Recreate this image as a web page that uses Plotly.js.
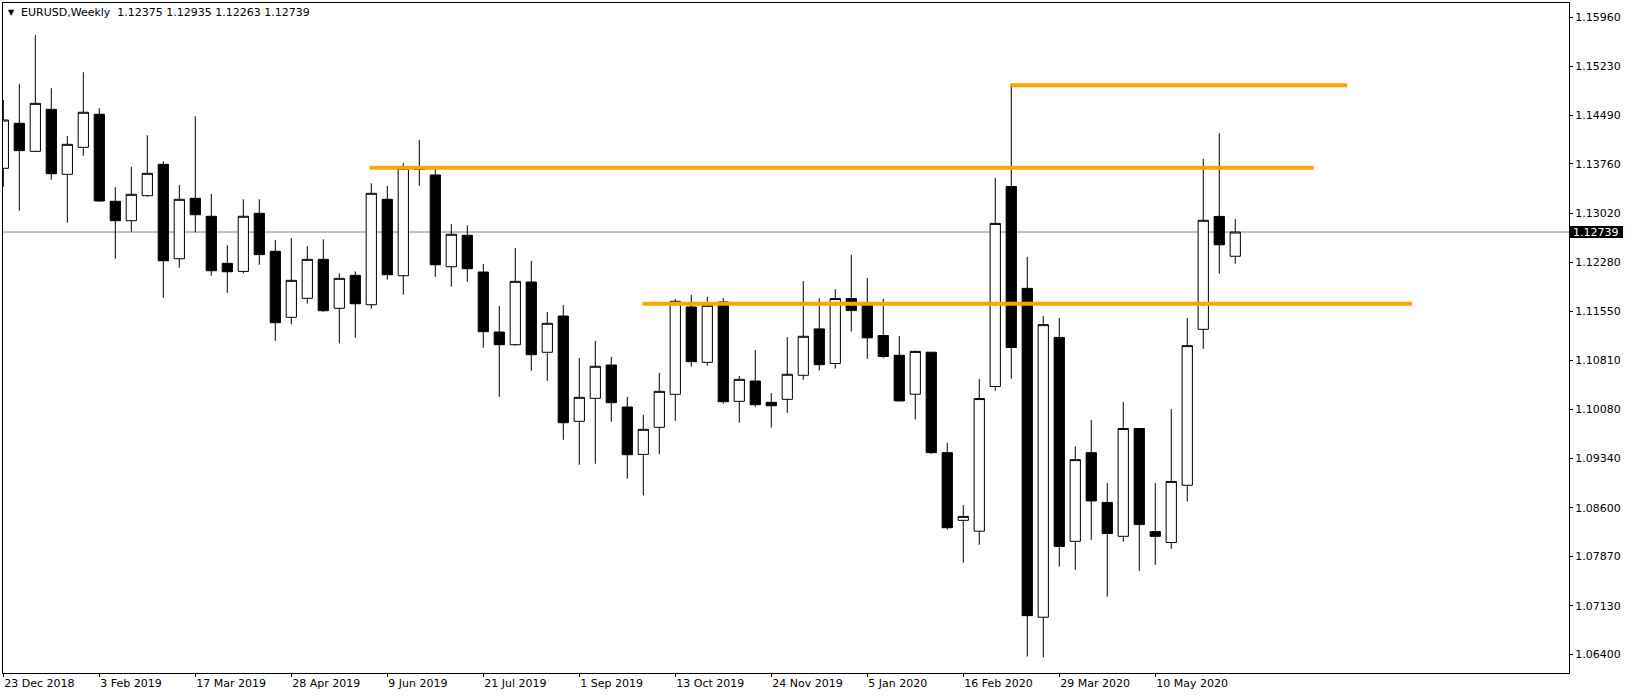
<!DOCTYPE html>
<html>
<head>
<meta charset="utf-8">
<script src="https://cdn.plot.ly/plotly-3.0.1.min.js"></script>
<style>
  html, body { margin: 0; padding: 0; background: #ffffff; }
  #chart { width: 1633px; height: 697px; }
</style>
</head>
<body>
<div id="chart"></div>
<script>
// ---- Data (EURUSD weekly, 23 Dec 2018 .. 14 Jun 2020) ----
const symbolTitle = "EURUSD,Weekly";
const openP = [
  1.13695, 1.14371, 1.13950, 1.14580, 1.13605, 1.14010, 1.14506, 1.13200, 1.12909, 1.13284,
  1.13755, 1.12338, 1.13245, 1.12975, 1.12269, 1.12148, 1.13020, 1.12450, 1.11459, 1.11744,
  1.12329, 1.11594, 1.12089, 1.11648, 1.13230, 1.12083, 1.13700, 1.13595, 1.12218, 1.12690,
  1.12139, 1.11238, 1.11048, 1.11989, 1.10934, 1.11478, 1.09898, 1.10243, 1.10743, 1.10113,
  1.09402, 1.09808, 1.10303, 1.11614, 1.10783, 1.11689, 1.10198, 1.10503, 1.10183, 1.10228,
  1.10589, 1.11285, 1.10766, 1.11741, 1.11665, 1.11186, 1.10889, 1.10305, 1.10935, 1.09428,
  1.08412, 1.08249, 1.10420, 1.13422, 1.11893, 1.06958, 1.11157, 1.08097, 1.09428, 1.08681,
  1.08172, 1.09790, 1.08243, 1.08079, 1.08938, 1.11279, 1.12973, 1.12375
];
const highP = [
  1.14720, 1.14960, 1.15696, 1.14896, 1.14180, 1.15136, 1.14596, 1.13410, 1.13715, 1.14191,
  1.13800, 1.13445, 1.14476, 1.13310, 1.12540, 1.13230, 1.13230, 1.12619, 1.12645, 1.12525,
  1.12630, 1.12119, 1.12148, 1.13470, 1.13430, 1.13770, 1.14120, 1.13719, 1.12859, 1.12840,
  1.12259, 1.11629, 1.12499, 1.12304, 1.11539, 1.11644, 1.10848, 1.11103, 1.10863, 1.10263,
  1.09993, 1.10623, 1.11734, 1.11794, 1.11764, 1.11749, 1.10578, 1.10968, 1.10323, 1.11163,
  1.12004, 1.11747, 1.11881, 1.12396, 1.12050, 1.11735, 1.11180, 1.10960, 1.10940, 1.09574,
  1.08640, 1.10531, 1.13551, 1.14941, 1.12366, 1.11478, 1.11448, 1.09521, 1.09919, 1.08972,
  1.10188, 1.09800, 1.08972, 1.10083, 1.11448, 1.13838, 1.14222, 1.12935
];
const lowP = [
  1.13419, 1.13059, 1.13940, 1.13524, 1.12879, 1.13884, 1.13194, 1.12338, 1.12744, 1.13269,
  1.11753, 1.12203, 1.12735, 1.12083, 1.11828, 1.12119, 1.12248, 1.11108, 1.11354, 1.11663,
  1.11543, 1.11069, 1.11153, 1.11588, 1.12023, 1.11798, 1.13434, 1.12068, 1.11918, 1.11993,
  1.11003, 1.10267, 1.11033, 1.10657, 1.10507, 1.09622, 1.09247, 1.09262, 1.09892, 1.09037,
  1.08787, 1.09402, 1.09907, 1.10718, 1.10733, 1.10162, 1.09877, 1.10117, 1.09802, 1.10027,
  1.10522, 1.10661, 1.10689, 1.11244, 1.10836, 1.10846, 1.10194, 1.09925, 1.09410, 1.08273,
  1.07776, 1.08045, 1.10357, 1.10537, 1.06368, 1.06356, 1.07717, 1.07671, 1.08120, 1.07267,
  1.08091, 1.07653, 1.07746, 1.07986, 1.08693, 1.10988, 1.12115, 1.12263
];
const closeP = [
  1.14420, 1.13960, 1.14670, 1.13614, 1.14055, 1.14536, 1.13204, 1.12909, 1.13305, 1.13620,
  1.12308, 1.13230, 1.12999, 1.12158, 1.12143, 1.12975, 1.12399, 1.11378, 1.12014, 1.12329,
  1.11558, 1.12044, 1.11663, 1.13320, 1.12098, 1.13695, 1.13680, 1.12248, 1.12705, 1.12188,
  1.11243, 1.11048, 1.11999, 1.10898, 1.11369, 1.09877, 1.10258, 1.10724, 1.10177, 1.09397,
  1.09778, 1.10348, 1.11699, 1.10793, 1.11639, 1.10192, 1.10528, 1.10147, 1.10132, 1.10604,
  1.11174, 1.10748, 1.11741, 1.11560, 1.11151, 1.10871, 1.10204, 1.10947, 1.09428, 1.08301,
  1.08471, 1.10240, 1.12868, 1.11006, 1.06982, 1.11349, 1.08021, 1.09323, 1.08703, 1.08214,
  1.09790, 1.08348, 1.08172, 1.08996, 1.11034, 1.12915, 1.12547, 1.12739
];

// Date tick labels (every 6 weeks) and their bar indices
const dateTickIdx = [0, 6, 12, 18, 24, 30, 36, 42, 48, 54, 60, 66, 72];
const dateTickLabels = ["23 Dec 2018", "3 Feb 2019", "17 Mar 2019", "28 Apr 2019", "9 Jun 2019",
  "21 Jul 2019", "1 Sep 2019", "13 Oct 2019", "24 Nov 2019", "5 Jan 2020", "16 Feb 2020",
  "29 Mar 2020", "10 May 2020"];

// Price scale tick labels
const priceTicks = [1.15960, 1.15230, 1.14490, 1.13760, 1.13020, 1.12280, 1.11550,
  1.10810, 1.10080, 1.09340, 1.08600, 1.07870, 1.07130, 1.06400];

// Horizontal level lines (orange): level, start bar, end bar
const levelPrices = [1.14941, 1.13704, 1.11663];
const levelStart = [62.93, 22.9, 39.95];
const levelEnd = [84.0, 81.9, 88.05];

// ---- Build chart ----
const barIdx = openP.map((_, i) => i);
const lastOpen = openP[openP.length - 1], lastHigh = highP[highP.length - 1];
const lastLow = lowP[lowP.length - 1], lastClose = closeP[closeP.length - 1];

const traces = [];
levelPrices.forEach((lv, k) => {
  traces.push({
    type: 'scatter', mode: 'lines',
    x: [levelStart[k], levelEnd[k]], y: [lv, lv],
    line: { color: '#FFA500', width: 4 },
    hoverinfo: 'skip', showlegend: false
  });
});
traces.push({
  type: 'candlestick',
  x: barIdx, open: openP, high: highP, low: lowP, close: closeP,
  increasing: { line: { color: '#000000', width: 1 }, fillcolor: '#FFFFFF' },
  decreasing: { line: { color: '#000000', width: 1 }, fillcolor: '#000000' },
  whiskerwidth: 0,
  hoverinfo: 'skip', showlegend: false
});

const fontFam = 'DejaVu Sans, Verdana, sans-serif';
const plotW = 1633 - 3 - 64;

const layout = {
  width: 1633, height: 697,
  margin: { l: 3, r: 64, t: 3, b: 24, pad: 0 },
  paper_bgcolor: '#FFFFFF', plot_bgcolor: '#FFFFFF',
  showlegend: false,
  boxgap: 0.36, boxgroupgap: 0,
  font: { family: fontFam, size: 11, color: '#000000' },
  xaxis: {
    type: 'linear',
    range: [-0.02, 97.86],
    tickmode: 'array', tickvals: dateTickIdx, ticktext: dateTickLabels,
    ticks: 'outside', ticklen: 3, tickcolor: '#000000', tickwidth: 1,
    ticklabelposition: 'outside right',
    tickfont: { family: fontFam, size: 11, color: '#000000' },
    showgrid: false, zeroline: false,
    showline: true, linecolor: '#000000', linewidth: 1, mirror: true,
    rangeslider: { visible: false },
    fixedrange: true
  },
  yaxis: {
    side: 'right',
    range: [1.06121, 1.16176],
    tickmode: 'array', tickvals: priceTicks,
    ticktext: priceTicks.map(v => v.toFixed(5)),
    ticks: 'outside', ticklen: 3, tickcolor: '#000000', tickwidth: 1,
    tickfont: { family: fontFam, size: 11, color: '#000000' },
    showgrid: false, zeroline: false,
    showline: true, linecolor: '#000000', linewidth: 1, mirror: true,
    fixedrange: true
  },
  shapes: [
    { type: 'line', xref: 'paper', yref: 'y', x0: 0, x1: 1, y0: lastClose, y1: lastClose,
      line: { color: '#778899', width: 1 }, layer: 'below' },
    { type: 'rect', xref: 'paper', yref: 'y', x0: 1 + 1 / plotW, x1: 1 + 54 / plotW,
      y0: lastClose - 6 / 6663, y1: lastClose + 6 / 6663,
      fillcolor: '#000000', line: { width: 0 }, layer: 'above' }
  ],
  annotations: [
    { xref: 'paper', yref: 'paper', x: 0, y: 1, xanchor: 'left', yanchor: 'middle',
      xshift: 3, yshift: -9, showarrow: false, text: '\u25BC',
      font: { family: fontFam, size: 8, color: '#000000' } },
    { xref: 'paper', yref: 'paper', x: 0, y: 1, xanchor: 'left', yanchor: 'middle',
      xshift: 16, yshift: -9, showarrow: false,
      text: symbolTitle + '\u00A0\u00A0' + [lastOpen, lastHigh, lastLow, lastClose].map(v => v.toFixed(5)).join(' '),
      font: { family: fontFam, size: 11, color: '#000000' } },
    { xref: 'paper', yref: 'y', x: 1, y: lastClose, xanchor: 'left', yanchor: 'middle',
      xshift: 3, showarrow: false, text: lastClose.toFixed(5), borderpad: 0,
      font: { family: fontFam, size: 11, color: '#FFFFFF' } }
  ],
  hovermode: false
};

Plotly.newPlot('chart', traces, layout, { displayModeBar: false, staticPlot: true });
</script>
</body>
</html>
